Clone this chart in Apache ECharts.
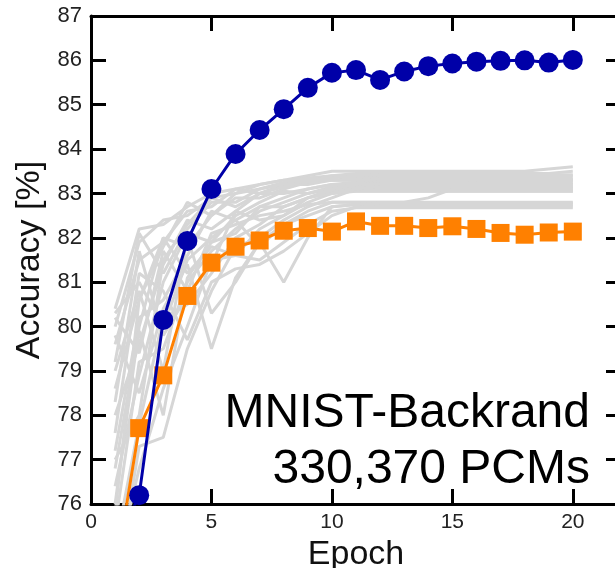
<!DOCTYPE html>
<html>
<head>
<meta charset="utf-8">
<script src="https://cdn.jsdelivr.net/npm/echarts@6/dist/echarts.min.js"></script>
<style>
html,body{margin:0;padding:0;background:#fff;}
#chart{width:615px;height:568px;}
</style>
</head>
<body>
<div id="chart"></div>
<script>
const epochs = [1,2,3,4,5,6,7,8,9,10,11,12,13,14,15,16,17,18,19,20];
const xTicks = [0,5,10,15,20];
const yTicks = [76,77,78,79,80,81,82,83,84,85,86,87];

const blueAcc   = [75.0,76.2,80.15,81.93,83.1,83.89,84.43,84.9,85.38,85.72,85.78,85.56,85.75,85.87,85.93,85.97,85.99,86.0,85.95,86.01];
const orangeAcc = [74.4,77.71,78.9,80.69,81.44,81.8,81.94,82.16,82.22,82.14,82.37,82.27,82.27,82.22,82.26,82.2,82.11,82.07,82.12,82.14];

const g01 = [80.4,82.2,82.3,82.7,83.0,83.1,83.2,83.3,83.4,83.5,83.5,83.5,83.5,83.5,83.5,83.5,83.5,83.5,83.55,83.6];
const g02 = [80.0,81.9,82.4,82.5,82.9,83.0,83.1,83.25,83.35,83.4,83.45,83.45,83.45,83.45,83.45,83.45,83.45,83.45,83.45,83.5];
const g03 = [79.6,81.5,81.9,82.6,82.7,83.1,83.0,83.2,83.3,83.4,83.4,83.4,83.4,83.4,83.4,83.4,83.4,83.4,83.4,83.4];
const g04 = [79.2,82.1,81.2,82.2,82.8,82.8,83.1,83.2,83.2,83.3,83.35,83.35,83.35,83.35,83.35,83.35,83.35,83.35,83.35,83.35];
const g05 = [78.6,80.6,82.0,81.8,82.5,82.9,82.9,83.1,83.25,83.3,83.3,83.3,83.3,83.3,83.3,83.3,83.3,83.3,83.3,83.3];
const g06 = [78.0,79.6,81.4,82.4,82.2,82.6,83.0,83.0,83.1,83.2,83.25,83.25,83.25,83.25,83.25,83.25,83.25,83.25,83.25,83.25];
const g07 = [77.2,80.2,80.6,81.6,82.6,82.4,82.7,82.9,83.1,83.2,83.2,83.2,83.2,83.2,83.2,83.2,83.2,83.2,83.2,83.2];
const g08 = [76.4,78.9,81.0,82.1,81.9,82.5,82.8,83.05,83.0,83.15,83.15,83.15,83.15,83.15,83.15,83.15,83.15,83.15,83.15,83.15];
const g09 = [75.5,79.2,79.5,81.0,81.7,82.2,82.6,82.8,83.0,83.1,83.1,83.1,83.1,83.1,83.1,83.1,83.1,83.1,83.1,83.1];
const g10 = [75.0,77.8,80.2,80.5,81.2,82.0,82.3,82.7,82.9,83.05,83.05,83.05,83.05,83.05,83.05,83.05,83.05,83.05,83.05,83.05];
const g11 = [74.5,76.8,78.6,80.0,81.5,81.6,82.2,82.5,82.8,83.0,83.05,83.05,83.05,83.05,83.05,83.05,83.05,83.05,83.05,83.05];
const g12 = [74.0,77.3,77.5,79.5,80.8,81.8,82.0,82.4,82.7,82.9,83.1,83.1,83.1,83.1,83.1,83.1,83.1,83.1,83.1,83.1];
const g13 = [79.8,78.5,80.4,81.4,79.5,81.1,81.9,82.3,82.6,82.8,82.8,82.8,82.8,82.8,82.8,82.8,82.8,82.8,82.8,82.8];
const g14 = [79.0,80.8,79.0,82.0,80.3,81.0,81.9,81.0,82.0,82.7,82.75,82.75,82.75,82.75,82.75,82.75,82.75,82.75,82.75,82.75];
const g15 = [77.6,81.2,80.8,79.7,81.0,81.3,81.4,81.7,82.1,82.5,82.7,82.72,82.72,82.72,82.72,82.72,82.72,82.72,82.72,82.72];
const g16 = [76.0,80.0,82.0,81.2,81.8,81.6,81.5,81.9,82.3,82.6,82.68,82.68,82.68,82.68,82.68,82.68,82.68,82.68,82.68,82.68];
const g17 = [80.2,79.4,81.7,80.8,82.1,82.3,82.5,82.6,82.75,82.8,82.8,82.8,82.8,82.9,83.1,83.3,83.3,83.3,83.3,83.3];
const g18 = [78.3,81.7,79.8,80.7,81.4,82.6,82.4,82.5,82.9,83.1,83.2,83.22,83.22,83.22,83.22,83.22,83.22,83.22,83.22,83.22];
const g19 = [77.0,78.0,81.5,82.3,82.9,82.7,83.0,83.15,83.3,83.35,83.4,83.42,83.42,83.42,83.42,83.42,83.42,83.42,83.42,83.42];
const g20 = [75.8,80.6,81.8,82.8,82.5,83.0,83.2,83.3,83.3,83.3,83.3,83.32,83.32,83.32,83.32,83.32,83.32,83.32,83.32,83.32];
const g21 = [80.3,81.0,80.0,81.5,82.0,82.4,81.8,82.3,82.5,82.7,82.75,82.78,82.78,82.78,82.78,82.78,82.78,82.78,82.78,82.78];
const g22 = [76.8,79.9,78.0,81.1,81.9,82.1,82.7,82.7,82.9,83.0,83.1,83.15,83.15,83.15,83.15,83.15,83.15,83.15,83.15,83.15];
const grayRuns = [g01,g02,g03,g04,g05,g06,g07,g08,g09,g10,g11,g12,g13,g14,g15,g16,g17,g18,g19,g20,g21,g22];

const titleLines = ['MNIST-Backrand','330,370 PCMs'];

const FONT = '"Liberation Sans", Arial, Helvetica, sans-serif';
const pairs = arr => epochs.map((e,i)=>[e,arr[i]]);

const chart = echarts.init(document.getElementById('chart'), null, {renderer:'canvas'});

const series = [];
grayRuns.forEach((g)=>{
  series.push({type:'line', data:pairs(g), symbol:'none', silent:true, clip:true,
    lineStyle:{color:'#d6d6d6', width:3}, z:1});
});
series.push({type:'line', data:pairs(orangeAcc), symbol:'rect', symbolSize:18, clip:true,
  lineStyle:{color:'#ff8000', width:3}, itemStyle:{color:'#ff8000'}, z:3});
series.push({type:'line', data:pairs(blueAcc), symbol:'circle', symbolSize:20, clip:true,
  lineStyle:{color:'#0000a8', width:3}, itemStyle:{color:'#0000a8'}, z:4});

function axLine(){ return {show:true, onZero:false, lineStyle:{color:'#000', width:3}}; }
function axTick(){ return {show:true, inside:true, length:15, lineStyle:{color:'#000', width:3}}; }

chart.setOption({
  animation:false,
  backgroundColor:'#fff',
  grid:{left:91, top:16, right:-6, bottom:64, containLabel:false, outerBoundsMode:'none'},
  xAxis:[
    {type:'value', position:'bottom', min:0, max:22, interval:5,
     axisLine:axLine(), axisTick:axTick(), splitLine:{show:false},
     axisLabel:{show:true, margin:8, fontSize:21, color:'#222', fontFamily:FONT,
       showMaxLabel:false,
       formatter:v=> xTicks.indexOf(v)>=0 ? String(v) : ''},
     name:'Epoch', nameLocation:'middle', nameGap:32,
     nameTextStyle:{fontSize:34, color:'#111', fontFamily:FONT, verticalAlign:'top'}},
    {type:'value', position:'top', min:0, max:22, interval:5,
     axisLine:axLine(), axisTick:axTick(), splitLine:{show:false},
     axisLabel:{show:false}}
  ],
  yAxis:[
    {type:'value', position:'left', min:76, max:87, interval:1,
     axisLine:axLine(), axisTick:axTick(), splitLine:{show:false},
     axisLabel:{show:true, margin:9, fontSize:22, color:'#222', fontFamily:FONT,
       formatter:v=> yTicks.indexOf(v)>=0 ? String(v) : ''},
     name:'Accuracy [%]', nameLocation:'middle', nameGap:40, nameRotate:90,
     nameTextStyle:{fontSize:34, color:'#111', fontFamily:FONT}},
    {type:'value', position:'right', min:76, max:87, interval:1,
     axisLine:axLine(), axisTick:axTick(), splitLine:{show:false},
     axisLabel:{show:false}}
  ],
  graphic:[
    {type:'text', right:25, top:390, z:10,
     style:{text:titleLines[0], font:'48px '+FONT, fill:'#000', textAlign:'right'}},
    {type:'text', right:25, top:446, z:10,
     style:{text:titleLines[1], font:'48px '+FONT, fill:'#000', textAlign:'right'}}
  ],
  series:series
});
</script>
</body>
</html>
